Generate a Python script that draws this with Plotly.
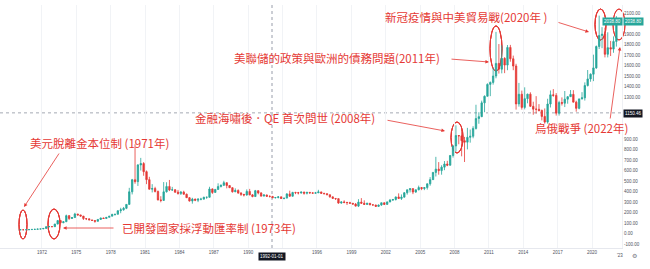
import plotly.graph_objects as go
import pandas as pd

# Quarterly gold price (USD/oz), 1970Q1 .. 2022Q1
first_open = 35.2
close = [35.9, 35.4, 36.2, 37.4,  38.9, 40.1, 42.8, 43.5,  48.3, 65.0, 65.5, 64.9,
         90, 123, 103, 112,  170, 143, 152, 186,  177, 166, 142, 140,
         129, 124, 116, 134,  148, 143, 154, 165,  181, 183, 217, 226,
         240, 277, 397, 512,  494, 653, 666, 589,  513, 422, 428, 400,
         320, 315, 397, 448,  414, 416, 394, 382,  394, 374, 341, 309,
         328, 317, 326, 327,  345, 345, 424, 391,  420, 447, 459, 484,
         457, 436, 397, 410,  385, 373, 367, 401,  368, 352, 408, 386,
         356, 367, 354, 353,  341, 343, 349, 333,  337, 377, 355, 391,
         389, 386, 395, 383,  392, 387, 384, 387,  396, 382, 379, 369,
         349, 334, 332, 290,  301, 296, 294, 288,  280, 261, 299, 288,
         277, 288, 273, 272,  258, 271, 293, 277,  301, 318, 324, 348,
         334, 346, 388, 416,  427, 395, 416, 438,  428, 437, 473, 513,
         582, 613, 599, 632,  662, 650, 743, 834,  933, 930, 884, 870,
         916, 926, 1001, 1095,  1113, 1244, 1307, 1420,  1439, 1500, 1620, 1565,
         1668, 1604, 1772, 1664,  1595, 1234, 1326, 1201,  1284, 1327, 1211, 1184,
         1183, 1172, 1115, 1061,  1233, 1321, 1315, 1146,  1247, 1241, 1279, 1303,
         1325, 1251, 1192, 1282,  1292, 1409, 1472, 1517,  1577, 1781, 1886, 1898,
         1707, 1770, 1756, 1829,  2040]
high = [36.0, 35.9, 36.3, 37.5,  39.0, 40.3, 43.0, 43.8,  49.0, 66.0, 70.0, 66.0,
        92, 127, 126, 114,  180, 175, 155, 197,  186, 178, 167, 145,
        141, 131, 126, 135,  150, 150, 155, 166,  189, 187, 220, 245,
        253, 280, 435, 520,  850, 660, 720, 680,  600, 540, 470, 445,
        410, 355, 490, 488,  510, 444, 423, 415,  405, 407, 380, 347,
        340, 331, 338, 340,  350, 350, 445, 430,  420, 478, 468, 502,
        485, 458, 440, 430,  420, 394, 375, 420,  425, 375, 415, 410,
        394, 375, 370, 363,  358, 345, 356, 351,  338, 384, 408, 397,
        397, 396, 398, 397,  395, 392, 388, 396,  416, 397, 388, 384,
        370, 351, 336, 333,  306, 316, 301, 302,  290, 290, 327, 337,
        316, 292, 289, 274,  272, 276, 293, 293,  304, 329, 326, 352,
        382, 372, 394, 418,  430, 432, 418, 456,  443, 442, 476, 537,
        584, 730, 680, 650,  690, 692, 745, 841,  1030, 937, 990, 920,
        1006, 990, 1022, 1226,  1155, 1265, 1315, 1430,  1447, 1577, 1920, 1804,
        1792, 1679, 1795, 1796,  1694, 1616, 1434, 1361,  1392, 1332, 1345, 1255,
        1308, 1232, 1180, 1191,  1283, 1362, 1375, 1337,  1264, 1296, 1357, 1307,
        1366, 1365, 1265, 1284,  1346, 1439, 1557, 1525,  1703, 1790, 2075, 1965,
        1960, 1916, 1834, 1877,  2070]
low = [34.9, 35.2, 35.4, 36.0,  37.3, 38.5, 40.0, 42.0,  43.3, 48.0, 62.0, 62.0,
       64, 88, 95, 98,  112, 129, 139, 150,  170, 160, 129, 128,
       128, 122, 103, 116,  133, 139, 142, 154,  165, 170, 183, 193,
       217, 232, 277, 372,  474, 453, 600, 550,  470, 420, 391, 391,
       315, 297, 314, 390,  404, 407, 387, 370,  367, 371, 339, 305,
       284, 308, 299, 316,  327, 330, 342, 377,  391, 418, 439, 452,
       430, 434, 390, 395,  379, 358, 353, 360,  364, 345, 350, 373,
       351, 354, 348, 343,  336, 333, 334, 330,  326, 335, 349, 352,
       375, 372, 380, 370,  372, 379, 381, 381,  386, 380, 373, 367,
       341, 334, 319, 283,  283, 288, 272, 285,  276, 257, 252, 281,
       274, 272, 270, 264,  255, 255, 263, 271,  276, 297, 310, 314,
       328, 319, 344, 370,  391, 375, 387, 412,  413, 413, 418, 455,
       512, 543, 560, 560,  603, 641, 648, 723,  780, 850, 735, 681,
       801, 865, 907, 990,  1045, 1108, 1155, 1305,  1308, 1418, 1478, 1523,
       1525, 1527, 1555, 1636,  1555, 1180, 1208, 1180,  1182, 1240, 1205, 1131,
       1142, 1162, 1077, 1046,  1046, 1200, 1302, 1123,  1123, 1219, 1204, 1236,
       1302, 1250, 1160, 1183,  1276, 1266, 1400, 1445,  1451, 1568, 1757, 1765,
       1677, 1677, 1690, 1721,  1780]

open_ = [first_open] + close[:-1]
dates = pd.date_range("1970-01-01", periods=len(close), freq="QS") + pd.Timedelta(days=45)

x_tick_years = [1972, 1975, 1978, 1981, 1984, 1987, 1990, 1993, 1996, 1999,
                2002, 2005, 2008, 2011, 2014, 2017, 2020]
x_tick_text = ["1972", "1975", "1978", "1981", "1984", "1987", "1990", "", "1996", "1999",
               "2002", "2005", "2008", "2011", "2014", "2017", "2020"]
y_tick_vals = [-100, 0, 100, 200, 300, 400, 500, 600, 700, 800, 900,
               1300, 1400, 1500, 1600, 1700, 1800, 1900, 2100]
y_grid_vals = list(range(-100, 2200, 100))

RED = "#e53935"
GREEN = "#26a69a"
FONT = "Noto Sans CJK TC"

fig = go.Figure()
fig.add_trace(go.Candlestick(
    x=dates, open=open_, high=high, low=low, close=close,
    increasing=dict(line=dict(color=GREEN, width=0.8), fillcolor=GREEN),
    decreasing=dict(line=dict(color=RED, width=0.8), fillcolor=RED),
    whiskerwidth=0, showlegend=False, hoverinfo="skip"))

W, H = 650, 269
L_, R_, T_, B_ = 0, 28, 5, 21
PW, PH = W - L_ - R_, H - T_ - B_

def px(x):
    return (x - L_) / PW

def py(y):
    return (H - B_ - y) / PH

# faint horizontal grid
for v in y_grid_vals:
    fig.add_hline(y=v, line=dict(color="#f1f3f6", width=1), layer="below")

shapes = []
# crosshair
shapes.append(dict(type="line", xref="paper", yref="paper", x0=px(272), x1=px(272), y0=0, y1=1,
                   line=dict(color="#c4c7ce", width=1, dash="dot")))
shapes.append(dict(type="line", xref="paper", yref="y", x0=0, x1=1, y0=1150, y1=1150,
                   line=dict(color="#c4c7ce", width=1, dash="dot")))
# ellipses
ellipses = [(19, 210, 27, 239), (48, 209, 60, 239), (451, 122, 463, 153),
            (490, 26, 502, 71), (595, 9, 606, 40), (613, 9, 625, 40)]
for x0, y0, x1, y1 in ellipses:
    shapes.append(dict(type="circle", xref="paper", yref="paper",
                       x0=px(x0), x1=px(x1), y0=py(y1), y1=py(y0),
                       line=dict(color=RED, width=1)))

ann = []
texts = [("美元脫離金本位制 (1971年)", 28, 143),
         ("已開發國家採浮動匯率制 (1973年)", 120, 228),
         ("金融海嘯後．QE 首次問世 (2008年)", 193, 118),
         ("美聯儲的政策與歐洲的債務問題(2011年)", 232, 58),
         ("新冠疫情與中美貿易戰(2020年 )", 383, 17),
         ("烏俄戰爭 (2022年)", 533, 128)]
for t, x, y in texts:
    ann.append(dict(text=t, xref="paper", yref="paper", x=px(x), y=py(y),
                    xanchor="left", yanchor="middle", showarrow=False,
                    font=dict(family=FONT, size=11.5, color=RED)))

arrows = [((60, 152), (24, 207)), ((115, 228), (63, 228)), ((386, 120), (445, 131)),
          ((450, 59), (489, 62)), ((557, 22), (589, 32)), ((610, 120), (620, 47))]
for (tx, ty), (hx, hy) in arrows:
    ann.append(dict(text="", xref="paper", yref="paper", x=px(hx), y=py(hy),
                    ax=tx - hx, ay=ty - hy, showarrow=True, arrowhead=2,
                    arrowsize=0.9, arrowwidth=0.8, arrowcolor=RED))

# price/crosshair labels
def box(text, x, y, bg):
    return dict(text=text, xref="paper", yref="paper", x=px(x), y=py(y),
                xanchor="center", yanchor="middle", showarrow=False,
                bgcolor=bg, borderpad=1,
                font=dict(family="Liberation Sans", size=4.5, color="white"))

ann.append(box("2038.80", 612.5, 21, GREEN))
ann.append(box("2038.80", 633, 21, GREEN))
ann.append(box("1150.46", 633, 113.5, "#131722"))
ann.append(box("1992-01-01", 272, 256, "#131722"))
ann.append(dict(text="'23", xref="paper", yref="paper", x=px(620), y=py(255),
                xanchor="center", yanchor="middle", showarrow=False,
                font=dict(family="Liberation Sans", size=4.5, color="#50535e")))
ann.append(dict(text="⚙", xref="paper", yref="paper", x=px(634), y=py(255),
                xanchor="center", yanchor="middle", showarrow=False,
                font=dict(family="DejaVu Sans", size=6, color="#787b86")))

fig.update_layout(
    width=W, height=H, margin=dict(l=L_, r=R_, t=T_, b=B_),
    paper_bgcolor="white", plot_bgcolor="white",
    shapes=shapes, annotations=ann, showlegend=False,
    xaxis=dict(type="date", range=["1968-05-04", "2022-08-13"],
               rangeslider=dict(visible=False),
               tickvals=[f"{y}-01-01" for y in x_tick_years],
               ticktext=x_tick_text,
               showgrid=True, gridcolor="#f1f3f6", gridwidth=1,
               showline=True, linecolor="#e6e8ee", linewidth=1,
               ticks="", tickfont=dict(family="Liberation Sans", size=4.5, color="#50535e")),
    yaxis=dict(side="right", range=[-138, 2176],
               tickvals=y_tick_vals, ticktext=[f"{v:.2f}" for v in y_tick_vals],
               showgrid=False, zeroline=False,
               showline=True, linecolor="#eef0f4", linewidth=1,
               ticks="", tickfont=dict(family="Liberation Sans", size=4.5, color="#50535e")),
)

fig.write_html("out.html")
